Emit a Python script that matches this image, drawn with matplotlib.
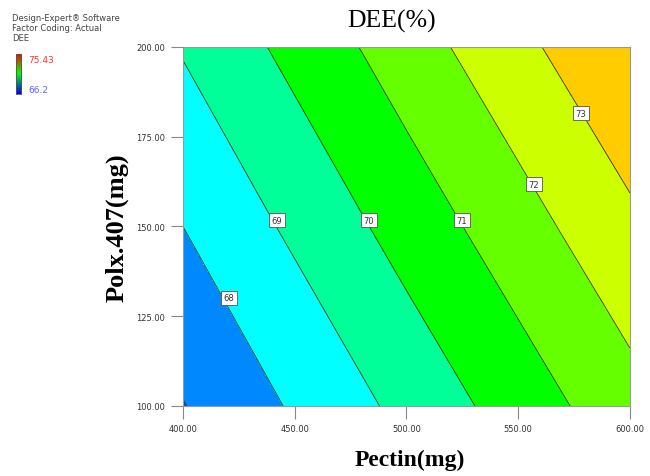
import matplotlib.pyplot as plt
import numpy as np
from matplotlib.colors import LinearSegmentedColormap

# design space
pectin = [400, 500, 600]
polox = [100, 150, 200]
# DEE (%) response over the pectin x poloxamer grid (rows = poloxamer)
dee = [
    [66.96, 69.28, 71.63],
    [68.00, 70.40, 72.78],
    [69.08, 71.52, 73.96],
]
levels = [66.2, 67, 68, 69, 70, 71, 72, 73, 75.43]
band_colors = ['#0040ff', '#0088ff', '#00ffff', '#00ff99',
               '#00ff00', '#66ff00', '#ccff00', '#ffcc00']
label_levels = [68, 69, 70, 71, 72, 73]
label_pos = [(420.6, 130.1), (442.1, 151.8), (483.2, 151.8),
             (524.8, 151.8), (557.0, 161.8), (578.1, 181.6)]
x_ticks = [400, 450, 500, 550, 600]
y_ticks = [100, 125, 150, 175, 200]
dee_min, dee_max = 66.2, 75.43

P, X = np.meshgrid(pectin, polox)
Z = np.array(dee)

fig = plt.figure(figsize=(6.5, 4.77), dpi=100)
ax = fig.add_axes([0.2815, 0.1468, 0.6877, 0.7526])

ax.contourf(P, X, Z, levels=levels, colors=band_colors)
ax.contour(P, X, Z, levels=levels[1:-1], colors='#2a3a2a', linewidths=0.6)

for lev, (px, py) in zip(label_levels, label_pos):
    ax.text(px, py, str(lev), fontsize=6, ha='center', va='center',
            color='#333333', family='DejaVu Sans',
            bbox=dict(boxstyle='square,pad=0.28', fc='white', ec='#555555', lw=0.6))

ax.set_xlim(400, 600)
ax.set_ylim(100, 200)
ax.set_xticks(x_ticks)
ax.set_yticks(y_ticks)
ax.set_xticklabels(['%.2f' % v for v in x_ticks])
ax.set_yticklabels(['%.2f' % v for v in y_ticks])
ax.tick_params(direction='out', length=9, width=0.8, color='#888888',
               labelsize=6, labelcolor='#333333', pad=4)
for s in ax.spines.values():
    s.set_color('#999999')
    s.set_linewidth(0.8)

serif = 'Liberation Serif'
fig.text(0.602, 0.954, 'DEE(%)', ha='center', va='center',
         family=serif, fontsize=18.5)
fig.text(0.631, 0.035, 'Pectin(mg)', ha='center', va='center',
         family=serif, fontsize=17, fontweight='bold')
fig.text(0.18, 0.522, 'Polx.407(mg)', ha='center', va='center', rotation=90,
         family=serif, fontsize=19, fontweight='bold')

# software header and response legend
for i, t in enumerate(['Design-Expert\u00ae Software', 'Factor Coding: Actual', 'DEE']):
    fig.text(0.018, 0.962 - i * 0.021, t, fontsize=6, color='#444444', va='center')
cax = fig.add_axes([0.024, 0.80, 0.009, 0.085])
cmap = LinearSegmentedColormap.from_list('dee', ['#0000ff', '#00ff00', '#ff0000'])
cax.imshow(np.linspace(1, 0, 50).reshape(-1, 1), aspect='auto', cmap=cmap)
cax.set_xticks([])
cax.set_yticks([])
for s in cax.spines.values():
    s.set_color('#555555')
    s.set_linewidth(0.6)
fig.text(0.043, 0.873, '%.2f' % dee_max, fontsize=6.5, color='#ff3030', va='center')
fig.text(0.043, 0.81, '%g' % dee_min, fontsize=6.5, color='#6060ff', va='center')

fig.savefig('out.png', dpi=100)
